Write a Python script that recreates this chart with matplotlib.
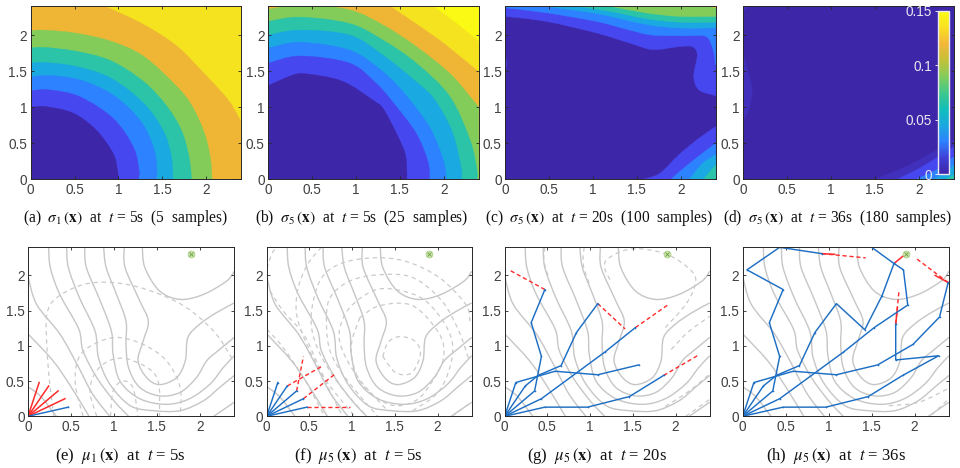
import matplotlib
matplotlib.use("Agg")
from matplotlib import pyplot as plt
from matplotlib.colors import LinearSegmentedColormap, Normalize
from matplotlib.patches import PathPatch
from matplotlib.path import Path
from matplotlib.cm import ScalarMappable

plt.rcParams["font.family"] = ["Liberation Sans", "DejaVu Sans"]
plt.rcParams["mathtext.fontset"] = "stix"

# band colours, lowest variance first
BANDS = ["#3E26A8", "#4747F0", "#2D82FF", "#1AA9E0", "#2BC4A8", "#84CC5A", "#EFB636", "#F5E31F", "#FAFA14"]
DARK2 = "#4030BC"

# (a) sigma_1 at t=5s, outermost band first
a_lines = [
    [(0.85, 2.4), (1.285, 2.15), (1.666, 1.85), (1.97, 1.48), (2.2, 1.18), (2.3, 1.02), (2.4, 0.8)],
    [(0, 2.06), (0.15, 2.07), (0.5, 2.03), (0.905, 1.92), (1.285, 1.71), (1.666, 1.29), (1.84, 1.02), (1.98, 0.65),
     (2.05, 0.3), (2.07, 0)],
    [(0, 1.82), (0.15, 1.83), (0.5, 1.78), (0.905, 1.65), (1.285, 1.36), (1.55, 1.02), (1.72, 0.68), (1.8, 0.35),
     (1.83, 0.1), (1.83, 0)],
    [(0, 1.61), (0.15, 1.62), (0.5, 1.57), (0.905, 1.41), (1.285, 1.06), (1.51, 0.68), (1.6, 0.35), (1.62, 0.1),
     (1.62, 0)],
    [(0, 1.42), (0.2, 1.44), (0.56, 1.38), (0.94, 1.17), (1.247, 0.82), (1.4, 0.45), (1.44, 0.16), (1.43, 0)],
    [(0, 1.23), (0.22, 1.24), (0.56, 1.146), (0.94, 0.846), (1.17, 0.45), (1.236, 0.13), (1.23, 0)],
    [(0, 1.0), (0.18, 1.007), (0.49, 0.915), (0.75, 0.68), (0.94, 0.36), (0.99, 0.13), (1.0, 0)],
]

# (b) sigma_5 at t=5s, outermost band first
b_lines = [
    [(1.88, 2.4), (2.15, 2.16), (2.4, 1.91)],
    [(1.39, 2.4), (1.92, 1.96), (2.19, 1.70), (2.4, 1.49)],
    [(0, 2.36), (0.4, 2.42), (0.93, 2.35), (1.31, 2.14), (1.69, 1.84), (2.07, 1.47), (2.3, 1.15), (2.4, 1.0)],
    [(0, 2.19), (0.36, 2.25), (0.93, 2.16), (1.31, 1.93), (1.69, 1.61), (2.07, 1.15), (2.3, 0.55), (2.38, 0.13),
     (2.38, 0)],
    [(0, 2.0), (0.36, 2.07), (0.93, 2.0), (1.31, 1.72), (1.69, 1.35), (1.9, 1.1), (2.1, 0.65), (2.2, 0.15), (2.2, 0)],
    [(0, 1.82), (0.36, 1.9), (0.93, 1.79), (1.31, 1.49), (1.58, 1.15), (1.85, 0.7), (2.0, 0.25), (2.03, 0)],
    [(0, 1.61), (0.36, 1.71), (0.93, 1.61), (1.23, 1.33), (1.4, 1.1), (1.68, 0.65), (1.82, 0.25), (1.84, 0)],
    [(0, 1.3), (0.29, 1.45), (0.45, 1.46), (0.74, 1.4), (0.93, 1.31), (1.19, 1.1), (1.31, 0.98), (1.46, 0.64),
     (1.56, 0.36), (1.58, 0.13), (1.58, 0)],
]

# (c) sigma_5 at t=20s, upper and lower-right regions
c_upper = [
    (1, [(0, 2.26), (0.47, 2.19), (1.04, 2.03), (1.42, 1.89), (1.68, 1.8), (1.98, 1.84), (2.13, 1.84), (2.19, 1.73),
         (2.15, 1.43), (2.21, 1.24), (2.4, 1.16)]),
    (2, [(0, 2.38), (0.47, 2.31), (1.04, 2.19), (1.42, 2.07), (1.68, 2.0), (2.06, 1.99), (2.29, 1.98), (2.37, 1.8),
         (2.4, 1.59)]),
    (3, [(0.45, 2.4), (1.04, 2.3), (1.6, 2.15), (1.98, 2.1), (2.4, 2.1)]),
    (4, [(0.81, 2.4), (1.2, 2.33), (1.6, 2.23), (1.98, 2.18), (2.4, 2.18)]),
    (5, [(1.2, 2.4), (1.6, 2.31), (1.98, 2.26), (2.4, 2.26)]),
    (6, [(2.33, 2.4), (2.4, 2.38)]),
]
c_lower = [
    (1, [(1.57, 0), (1.76, 0.08), (1.98, 0.34), (2.21, 0.57), (2.4, 0.73)]),
    (2, [(1.89, 0), (2.1, 0.22), (2.4, 0.5)]),
    (3, [(2.1, 0), (2.25, 0.22), (2.4, 0.34)]),
    (4, [(2.26, 0), (2.4, 0.2)]),
]
c_left_sliver = [(0, 1.72), (0.015, 1.6), (0, 1.5)]

# (d) sigma_5 at t=36s
d_lower = [
    (DARK2, [(1.5, 0), (1.93, 0.22), (2.4, 0.55)]),
    (BANDS[1], [(1.76, 0), (2.05, 0.18), (2.4, 0.45)]),
    (BANDS[2], [(1.97, 0), (2.2, 0.13), (2.4, 0.31)]),
    (BANDS[3], [(2.16, 0), (2.3, 0.08), (2.4, 0.2)]),
    (BANDS[4], [(2.31, 0), (2.4, 0.06)]),
]
d_left_bulge = [(0, 1.73), (0.08, 1.38), (0.1, 1.2), (0.06, 0.96), (0, 0.8)]
d_corner = [(0, 2.33), (0.06, 2.4)]

# true field contours, same in all four lower panels
true_contours = [
    [(0, 0.42), (0.15, 0.28), (0.33, 0)],
    [(0, 1.17), (0.29, 0.79), (0.5, 0.42), (0.71, 0)],
    [(0, 1.99), (0.1, 1.59), (0.37, 1.17), (0.57, 0.74), (0.75, 0.32), (0.95, 0)],
    [(0.24, 2.4), (0.26, 2.11), (0.37, 1.73), (0.59, 1.24), (0.64, 0.93), (0.8, 0.55), (1.0, 0.22), (1.17, 0)],
    [(0.45, 2.4), (0.47, 2.11), (0.6, 1.68), (0.78, 1.21), (0.82, 0.83), (0.95, 0.46), (1.19, 0.15), (1.46, 0.08),
     (1.77, 0.08), (2.04, 0.22), (2.23, 0.41), (2.4, 0.58)],
    [(0.66, 2.4), (0.68, 2.11), (0.84, 1.64), (0.97, 1.21), (0.99, 0.88), (1.07, 0.5), (1.3, 0.25), (1.61, 0.17),
     (1.88, 0.25), (2.12, 0.46), (2.27, 0.69), (2.4, 0.86)],
    [(0.88, 2.4), (0.91, 2.11), (1.03, 1.73), (1.14, 1.35), (1.14, 1.02), (1.17, 0.69), (1.3, 0.41), (1.53, 0.29),
     (1.77, 0.34), (1.96, 0.55), (2.08, 0.79), (2.23, 0.95), (2.4, 1.12)],
    [(1.12, 2.4), (1.13, 2.11), (1.3, 1.64), (1.4, 1.35), (1.34, 1.07), (1.28, 0.79), (1.38, 0.55), (1.53, 0.45),
     (1.73, 0.55), (1.83, 0.79), (1.86, 1.12), (2.0, 1.31), (2.19, 1.47), (2.4, 1.61)],
    [(1.33, 2.4), (1.36, 2.11), (1.53, 1.78), (1.77, 1.66), (2.04, 1.73), (2.31, 1.92), (2.4, 2.06)],
    [(2.16, 0), (2.4, 0.2)],
]

# estimated mean contours per panel
e_dashed = [
    [(0.3, 0), (0.25, 0.5), (0.22, 0.98), (0.22, 1.45), (0.33, 1.68), (0.64, 1.87), (0.99, 1.9), (1.38, 1.8),
     (1.81, 1.57), (2.16, 1.21), (2.37, 0.83)],
    [(0.64, 0), (0.55, 0.46), (0.59, 0.83), (0.76, 1.02), (1.03, 1.12), (1.34, 1.02), (1.61, 0.79), (1.77, 0.41),
     (1.77, 0)],
    [(0.8, 0), (0.72, 0.36), (0.8, 0.65), (0.99, 0.81), (1.22, 0.79), (1.5, 0.55), (1.53, 0)],
    [(0.96, 0), (0.99, 0.36), (1.1, 0.5), (1.22, 0.41), (1.28, 0)],
]
f_dashed = [
    [(0, 2.1), (0.07, 2.33), (0.13, 2.4)],
    [(0, 1.24), (0.19, 0.98), (0.43, 0.55), (0.62, 0.13), (0.68, 0)],
    [(0.04, 1.78), (0.19, 1.5), (0.43, 1.17), (0.58, 0.79), (0.74, 0.36), (0.89, 0)],
    [(0.64, 2.4), (0.48, 2.16), (0.37, 1.83), (0.35, 1.45), (0.47, 1.02), (0.7, 0.5), (1.03, 0)],
    [(2.38, 1.35), (2.33, 1.59), (2.02, 1.97), (1.63, 2.2), (1.24, 2.25), (0.85, 2.16), (0.62, 1.92), (0.52, 1.4),
     (0.6, 0.95), (0.85, 0.45), (1.17, 0)],
    [(2.36, 0.83), (2.25, 1.21), (2.05, 1.64), (1.71, 1.97), (1.32, 2.01), (0.97, 1.92), (0.74, 1.68), (0.7, 1.31),
     (0.75, 0.9), (0.95, 0.5), (1.3, 0)],
    [(1.71, 0.08), (2.02, 0.36), (2.17, 0.83), (2.13, 1.21), (1.86, 1.64), (1.51, 1.8), (1.24, 1.78), (0.97, 1.54),
     (0.85, 1.21), (0.9, 0.9), (1.1, 0.5), (1.4, 0.1)],
    [(1.09, 1.4), (1.32, 1.57), (1.71, 1.57), (2.02, 1.17), (2.07, 0.83), (1.94, 0.5), (1.74, 0.22), (1.43, 0.17),
     (1.09, 0.5), (0.99, 0.98), (1.09, 1.4)],
    [(1.36, 0.85), (1.42, 1.05), (1.55, 1.13), (1.72, 1.08), (1.8, 0.9), (1.7, 0.62), (1.51, 0.62), (1.36, 0.85)],
    [(2.17, 0), (2.36, 0.17)],
]
g_dashed = [
    [(1.88, 1.26), (2.12, 1.59), (2.23, 1.87), (2.19, 2.06), (1.9, 2.3), (1.5, 2.38), (1.22, 2.25), (1.17, 2.11),
     (1.25, 1.9)],
    [(0.47, 2.4), (0.46, 2.2), (0.52, 1.95)],
    [(0.93, 2.4), (0.92, 2.15), (1.0, 1.85)],
    [(2.12, 0), (2.4, 0.24)],
    [(1.88, 0.14), (2.15, 0.35), (2.4, 0.6)],
    [(1.95, 0.95), (2.15, 1.2), (2.4, 1.42)],
]
h_dashed = [
    [(1.7, 0.15), (2.05, 0.2), (2.4, 0.4)],
    [(2.2, 0.02), (2.4, 0.25)],
]

# sampling paths of the five agents
start = (0, 0)
agent1 = [start, (0.13, 0.48), (0.59, 0.64), (1.09, 0.59), (1.57, 0.73), (1.98, 1.02), (2.29, 1.41), (2.39, 1.9)]
agent2 = [start, (0.24, 0.43), (0.39, 0.58), (0.66, 0.72), (0.84, 1.19), (1.09, 1.6), (1.42, 1.23), (1.62, 1.71),
          (1.76, 2.17), (1.5, 2.4)]
agent3 = [start, (0.35, 0.36), (0.43, 0.85), (0.31, 1.33), (0.47, 1.8), (0.05, 2.08), (0.43, 2.4), (0.92, 2.31)]
agent4 = [start, (0.43, 0.25), (1.17, 0.91), (1.53, 1.26), (1.92, 1.58), (1.87, 2.08), (1.76, 2.17)]
agent5 = [start, (0.47, 0.13), (0.97, 0.13), (1.46, 0.28), (1.86, 0.58), (2.28, 0.86), (1.78, 0.8), (1.78, 1.31)]

e_blue = [[start, (0.47, 0.13)]]
e_solid = [[start, (0.13, 0.48)], [start, (0.24, 0.43)], [start, (0.35, 0.36)], [start, (0.43, 0.25)]]

f_blue = [[start, (0.13, 0.48)], [start, (0.24, 0.43)], [start, (0.35, 0.36)], [start, (0.43, 0.25)],
          [start, (0.47, 0.13)]]
f_red = [[(0.24, 0.43), (0.66, 0.72)], [(0.35, 0.36), (0.43, 0.85)], [(0.43, 0.25), (0.8, 0.6)],
         [(0.47, 0.13), (0.98, 0.13)]]

g_blue = [agent1[:5], agent2[:6], agent3[:5], [start, (0.43, 0.25), (1.17, 0.91), (1.53, 1.26)], agent5[:5]]
g_red = [[(1.09, 1.6), (1.41, 1.24)], [(0.47, 1.8), (0.05, 2.08)], [(1.53, 1.26), (1.92, 1.59)],
         [(1.86, 0.58), (2.27, 0.87)]]

h_blue = [agent1, agent2, agent3, agent4, agent5]
h_red = [[(0.92, 2.31), (1.43, 2.25)], [(2.39, 1.9), (2.02, 2.24)], [(1.78, 1.31), (1.82, 1.8)]]
h_solid = [[(1.76, 2.17), (1.86, 2.27)], [(0.92, 2.31), (1.07, 2.3)], [(2.39, 1.9), (2.24, 2.0)],
           [(1.78, 1.31), (1.8, 1.54)]]

source = (1.9, 2.3)

captions_top = [
    r"(a)  $\sigma_1\,(\mathbf{x})$  at  $t$ = 5s  (5  samples)",
    r"(b)  $\sigma_5\,(\mathbf{x})$  at  $t$ = 5s  (25  samples)",
    r"(c)  $\sigma_5\,(\mathbf{x})$  at  $t$ = 20s  (100  samples)",
    r"(d)  $\sigma_5\,(\mathbf{x})$  at  $t$ = 36s  (180  samples)",
]
captions_bottom = [
    r"(e)  $\mu_1\,(\mathbf{x})$  at  $t$ = 5s",
    r"(f)  $\mu_5\,(\mathbf{x})$  at  $t$ = 5s",
    r"(g)  $\mu_5\,(\mathbf{x})$  at  $t$ = 20s",
    r"(h)  $\mu_5\,(\mathbf{x})$  at  $t$ = 36s",
]

x_ticks = [0, 0.5, 1, 1.5, 2]
y_ticks = [0, 0.5, 1, 1.5, 2]
tick_text = ["0", "0.5", "1", "1.5", "2"]

colorbar_ticks = [0, 0.05, 0.1, 0.15]
colorbar_text = ["0", "0.05", "0.1", "0.15"]
colorbar_colors = ["#3E26A8", "#4040D8", "#2D82FF", "#1AA9E0", "#12BEB9", "#40C88A", "#84CC5A", "#C4C038",
                   "#F3B73A", "#F9E020", "#FAFA14"]

W, H = 960, 468
top_boxes = [(30.7, 241), (268.3, 478.7), (505.3, 715.7), (743.3, 953.7)]
bottom_boxes = [(28, 234.3), (266.7, 471.7), (504.7, 709.7), (742.7, 949)]
top_caption_x = [125, 362, 599, 837]
bottom_caption_x = [120, 358, 597, 836]


def smooth_path(points, corners=(), close=False):
    # Catmull-Rom segments as cubic beziers, so the curve goes through every point
    verts = [points[0]]
    codes = [Path.MOVETO]
    n = len(points)
    for i in range(n - 1):
        p0 = points[max(i - 1, 0)]
        p1 = points[i]
        p2 = points[i + 1]
        p3 = points[min(i + 2, n - 1)]
        c1 = (p1[0] + (p2[0] - p0[0]) / 6, p1[1] + (p2[1] - p0[1]) / 6)
        c2 = (p2[0] - (p3[0] - p1[0]) / 6, p2[1] - (p3[1] - p1[1]) / 6)
        verts += [c1, c2, p2]
        codes += [Path.CURVE4, Path.CURVE4, Path.CURVE4]
    for c in corners:
        verts.append(c)
        codes.append(Path.LINETO)
    if close:
        verts.append(points[0])
        codes.append(Path.CLOSEPOLY)
    return Path(verts, codes)


def make_axes(box, top, bottom):
    ax = fig.add_axes([box[0] / W, 1 - bottom / H, (box[1] - box[0]) / W, (bottom - top) / H])
    ax.set_xlim(0, 2.4)
    ax.set_ylim(0, 2.4)
    ax.set_xticks(x_ticks, tick_text)
    ax.set_yticks(y_ticks, tick_text)
    ax.tick_params(direction="in", top=True, right=True, length=2, width=0.6, color="#262626",
                   labelsize=9.8, labelcolor="#404040", pad=2.5)
    for s in ax.spines.values():
        s.set_linewidth(0.7)
        s.set_color("#262626")
    return ax


def fill_region(ax, color, points, corners):
    ax.add_patch(PathPatch(smooth_path(points, corners, True), fc=color, ec=color, lw=0.3))


def draw_field(ax):
    for line in true_contours:
        ax.add_patch(PathPatch(smooth_path(line), fc="none", ec="#C6C6C6", lw=1.0))


def draw_dashed(ax, lines):
    for line in lines:
        ax.add_patch(PathPatch(smooth_path(line), fc="none", ec="#CACACA", lw=0.9, ls=(0, (3.5, 3))))


def draw_source(ax):
    ax.plot(*source, "o", ms=5, mfc="#C8E4AC", mec="#A8D080", mew=0.5)
    ax.plot(*source, "x", ms=3.5, color="#6E9E40", mew=0.6)


def draw_paths(ax, blue, red, solid):
    for line in red:
        xs, ys = zip(*line)
        ax.plot(xs, ys, color="#FF2A2A", lw=1.0, ls=(0, (3, 2)))
    for line in solid:
        xs, ys = zip(*line)
        ax.plot(xs, ys, color="#FF2A2A", lw=1.1)
    for line in blue:
        xs, ys = zip(*line)
        ax.plot(xs, ys, color="#1E6FC4", lw=1.05, marker="o", ms=1.2, mfc="#1E6FC4", mec="none")


fig = plt.figure(figsize=(W / 100, H / 100), dpi=100)

# top row: posterior variance bands
whole = [(2.4, 0), (0, 0), (0, 2.4)]

ax = make_axes(top_boxes[0], 6.3, 179.3)
ax.set_facecolor(BANDS[7])
fill_region(ax, BANDS[6], a_lines[0], whole)
for lvl, line in zip([5, 4, 3, 2, 1, 0], a_lines[1:]):
    fill_region(ax, BANDS[lvl], line, [(0, 0)])

ax = make_axes(top_boxes[1], 6.3, 179.3)
ax.set_facecolor(BANDS[8])
fill_region(ax, BANDS[7], b_lines[0], whole)
fill_region(ax, BANDS[6], b_lines[1], whole)
fill_region(ax, BANDS[5], b_lines[2], [(2.4, 0), (0, 0)])
for lvl, line in zip([4, 3, 2, 1, 0], b_lines[3:]):
    fill_region(ax, BANDS[lvl], line, [(0, 0)])

ax = make_axes(top_boxes[2], 6.3, 179.3)
ax.set_facecolor(BANDS[0])
fill_region(ax, BANDS[1], c_left_sliver, [])
for lvl, line in c_upper:
    fill_region(ax, BANDS[lvl], line, [(2.4, 2.4), (0, 2.4)])
for lvl, line in c_lower:
    fill_region(ax, BANDS[lvl], line, [(2.4, 0)])

ax = make_axes(top_boxes[3], 6.3, 179.3)
ax.set_facecolor(BANDS[0])
fill_region(ax, DARK2, d_left_bulge, [])
fill_region(ax, DARK2, d_corner, [(0, 2.4)])
for color, line in d_lower:
    fill_region(ax, color, line, [(2.4, 0)])

# colorbar on top of the last variance panel
cax = fig.add_axes([937.5 / W, 1 - 174 / H, 11.8 / W, 163 / H])
cmap = LinearSegmentedColormap.from_list("bands", colorbar_colors)
cb = fig.colorbar(ScalarMappable(Normalize(0, 0.15), cmap), cax=cax)
cb.set_ticks(colorbar_ticks, labels=colorbar_text)
cax.yaxis.set_ticks_position("left")
cax.tick_params(length=2, width=0.6, color="white", labelcolor="#E8E8F0", labelsize=9.8, pad=2)
cb.outline.set_edgecolor("#E8E8F0")
cb.outline.set_linewidth(1.0)

# bottom row: estimated field and agent paths
panels = [
    (e_dashed, e_blue, [], e_solid),
    (f_dashed, f_blue, f_red, []),
    (g_dashed, g_blue, g_red, []),
    (h_dashed, h_blue, h_red, h_solid),
]
for box, (dashed, blue, red, solid) in zip(bottom_boxes, panels):
    ax = make_axes(box, 247.3, 416.3)
    draw_field(ax)
    draw_dashed(ax, dashed)
    draw_source(ax)
    draw_paths(ax, blue, red, solid)

for x, text in zip(top_caption_x, captions_top):
    fig.text(x / W, 1 - 218 / H, text, ha="center", va="center", fontsize=11.2,
             family="Liberation Serif", color="#111111")
for x, text in zip(bottom_caption_x, captions_bottom):
    fig.text(x / W, 1 - 456.5 / H, text, ha="center", va="center", fontsize=12,
             family="Liberation Serif", color="#111111")

fig.savefig("out.png", dpi=100)
